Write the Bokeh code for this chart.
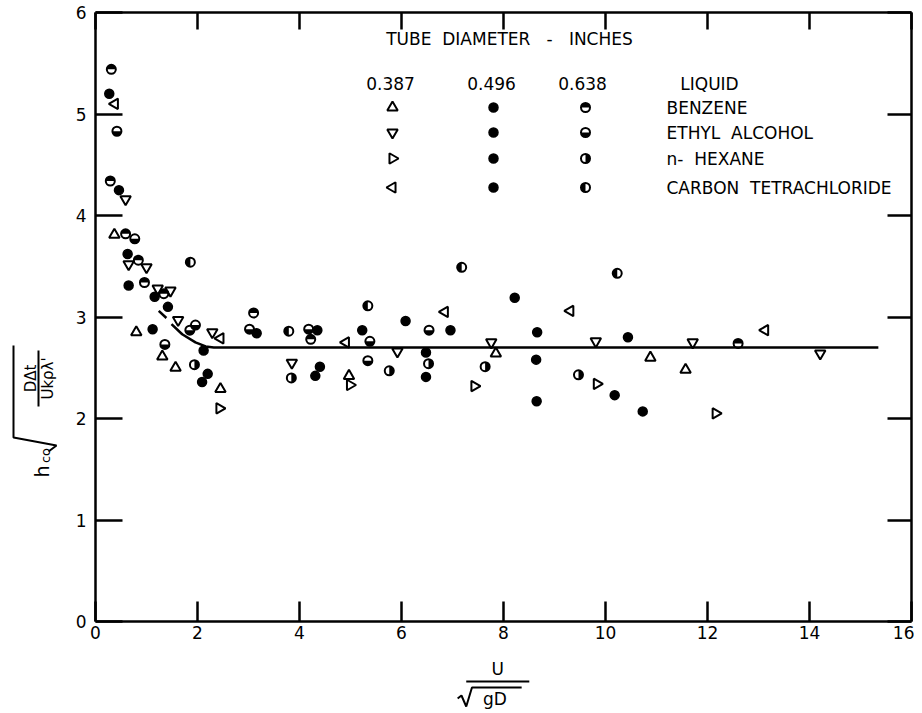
from math import pi
from bokeh.plotting import figure
from bokeh.models import Range1d, LinearAxis, Label, FixedTicker
from bokeh.core.properties import value
from bokeh.layouts import row, column
from bokeh.embed import file_html
from bokeh.resources import INLINE

# ---------------- data ----------------
x_ticks = [0, 2, 4, 6, 8, 10, 12, 14, 16]
y_ticks = [0, 1, 2, 3, 4, 5, 6]

NB = "\u00a0"
diameters = ["0.387", "0.496", "0.638"]
liquids = ["BENZENE", "ETHYL" + NB + " ALCOHOL", "n-" + NB + " HEXANE", "CARBON" + NB + " TETRACHLORIDE"]

# 0.387 in. tube (triangles)
benz_387_x = [0.37, 0.80, 1.31, 1.57, 2.45, 4.97, 7.85, 10.88, 11.57]
benz_387_y = [3.81, 2.85, 2.61, 2.50, 2.29, 2.42, 2.64, 2.60, 2.48]
eth_387_x = [0.59, 0.65, 1.00, 1.22, 1.47, 1.62, 2.29, 3.85, 5.92, 7.76, 9.81, 11.71, 14.21]
eth_387_y = [4.16, 3.52, 3.49, 3.28, 3.26, 2.97, 2.85, 2.55, 2.66, 2.75, 2.76, 2.75, 2.64]
hex_387_x = [2.43, 4.99, 7.43, 9.83, 12.16]
hex_387_y = [2.10, 2.33, 2.32, 2.34, 2.05]
ccl4_387_x = [0.38, 2.45, 4.91, 6.85, 9.31, 13.13]
ccl4_387_y = [5.10, 2.79, 2.75, 3.05, 3.06, 2.87]

# 0.496 in. tube (filled circles)
benz_496_x = [0.27, 0.63, 1.16, 2.12, 4.35, 6.96, 8.66]
benz_496_y = [5.20, 3.62, 3.20, 2.67, 2.87, 2.87, 2.85]
eth_496_x = [0.46, 0.65, 1.42, 3.16, 5.23, 6.08, 10.44]
eth_496_y = [4.25, 3.31, 3.10, 2.84, 2.87, 2.96, 2.80]
hex_496_x = [2.20, 4.40, 6.48, 8.64, 10.18]
hex_496_y = [2.44, 2.51, 2.65, 2.58, 2.23]
ccl4_496_x = [1.12, 2.09, 4.31, 6.48, 8.22, 8.65, 10.73]
ccl4_496_y = [2.88, 2.36, 2.42, 2.41, 3.19, 2.17, 2.07]

# 0.638 in. tube (half-filled circles)
benz_638_x = [0.31, 0.29, 0.59, 0.84, 0.96, 1.34, 3.10, 4.22, 12.60]
benz_638_y = [5.44, 4.34, 3.82, 3.56, 3.34, 3.23, 3.04, 2.78, 2.74]
eth_638_x = [0.42, 0.77, 1.36, 1.96, 1.85, 3.02, 4.18, 5.38, 5.34, 6.54]
eth_638_y = [4.83, 3.77, 2.73, 2.92, 2.87, 2.88, 2.88, 2.76, 2.57, 2.87]
hex_638_x = [1.94, 3.84, 5.76, 6.53, 7.64, 9.47]
hex_638_y = [2.53, 2.40, 2.47, 2.54, 2.51, 2.43]
ccl4_638_x = [1.86, 3.79, 5.34, 7.18, 10.23]
ccl4_638_y = [3.54, 2.86, 3.11, 3.49, 3.43]

# correlation curve
curve_x = [1.49, 1.70, 1.96, 2.16, 2.32, 15.35]
curve_y = [2.93, 2.83, 2.75, 2.71, 2.70, 2.70]
curve_dash_x = [1.24, 1.39]
curve_dash_y = [3.06, 2.99]

# ---------------- main figure ----------------
FONT = "DejaVu Sans"
p = figure(width=854, height=660, x_range=Range1d(0, 16), y_range=Range1d(0, 6),
           output_backend="svg", toolbar_location=None,
           min_border_left=35, min_border_right=3, min_border_top=12, min_border_bottom=39,
           background_fill_color="white", border_fill_color="white")
p.outline_line_color = None
p.grid.visible = False

bottom_ax = p.below[0]
left_ax = p.left[0]
top_ax = LinearAxis()
right_ax = LinearAxis()
p.add_layout(top_ax, "above")
p.add_layout(right_ax, "right")

for ax, tin in ((bottom_ax, 20), (left_ax, 27), (top_ax, 17), (right_ax, 24)):
    ax.axis_line_width = 2.5
    ax.axis_line_color = "black"
    ax.major_tick_line_width = 2.5
    ax.major_tick_line_color = "black"
    ax.major_tick_in = tin
    ax.major_tick_out = 0
    ax.minor_tick_line_color = None
    ax.major_label_text_font = FONT
    ax.major_label_text_font_size = "17px"
    ax.major_label_text_color = "black"

bottom_ax.ticker = FixedTicker(ticks=x_ticks)
top_ax.ticker = FixedTicker(ticks=x_ticks)
left_ax.ticker = FixedTicker(ticks=y_ticks)
right_ax.ticker = FixedTicker(ticks=y_ticks)
bottom_ax.major_label_standoff = 4
left_ax.major_label_standoff = 9
for ax in (top_ax, right_ax):
    ax.major_label_text_color = None
    ax.major_label_text_font_size = "0px"
    ax.major_label_standoff = 0

# ---------------- helpers ----------------
def X(px):
    return (px - 95) / 51.0

def Y(py):
    return (621 - py) / 101.5

TRI_SIZE = 10.5
CIRC = 9

def tri(xs, ys, kind):
    common = dict(size=TRI_SIZE, fill_color=None, line_color="black", line_width=2)
    if kind == "up":
        p.scatter(xs, ys, marker="triangle", **common)
    elif kind == "down":
        p.scatter(xs, ys, marker="inverted_triangle", **common)
    elif kind == "right":
        p.scatter(xs, ys, marker="triangle", angle=-pi / 2, **common)
    else:
        p.scatter(xs, ys, marker="triangle", angle=pi / 2, **common)

def full(xs, ys):
    p.scatter(xs, ys, marker="circle", size=CIRC, fill_color="black",
              line_color="black", line_width=1.5)

HALF = {"up": (0, pi), "down": (pi, 2 * pi), "right": (-pi / 2, pi / 2), "left": (pi / 2, 3 * pi / 2)}

def half(xs, ys, kind):
    s, e = HALF[kind]
    p.wedge(xs, ys, radius=CIRC / 2.0, radius_units="screen", start_angle=s, end_angle=e,
            fill_color="black", line_color=None)
    p.scatter(xs, ys, marker="circle", size=CIRC, fill_color=None,
              line_color="black", line_width=2)

# ---------------- correlation curve ----------------
p.line(curve_x, curve_y, line_color="black", line_width=2.5)
p.line(curve_dash_x, curve_dash_y, line_color="black", line_width=2.5)

# ---------------- data points ----------------
tri(benz_387_x, benz_387_y, "up")
tri(eth_387_x, eth_387_y, "down")
tri(hex_387_x, hex_387_y, "right")
tri(ccl4_387_x, ccl4_387_y, "left")
full(benz_496_x, benz_496_y)
full(eth_496_x, eth_496_y)
full(hex_496_x, hex_496_y)
full(ccl4_496_x, ccl4_496_y)
half(benz_638_x, benz_638_y, "up")
half(eth_638_x, eth_638_y, "down")
half(hex_638_x, hex_638_y, "right")
half(ccl4_638_x, ccl4_638_y, "left")

# ---------------- key table ----------------
def lab(x, y, text, size="17px", align="center"):
    p.add_layout(Label(x=x, y=y, text=text, text_font=FONT, text_font_size=size,
                       text_align=align, text_baseline="middle", text_color="black"))

lab(X(509), Y(38), "TUBE" + NB + " DIAMETER" + NB + NB + " -" + NB + NB + " INCHES")
col_px = [390, 491, 582]
row_py = [107, 132, 158, 187]
for cx, d in zip(col_px, diameters):
    lab(X(cx), Y(83), d)
lab(X(709), Y(83), "LIQUID")
kinds = ["up", "down", "right", "left"]
for ry, name, k in zip(row_py, liquids, kinds):
    lab(X(666), Y(ry), name, align="left")
    tri([X(392)], [Y(ry)], k)
    full([X(493)], [Y(ry)])
    half([X(585)], [Y(ry)], k)

# ---------------- side panels (coordinates = page pixels, y measured up from 710) ----------------
H = 710
def side_fig(w, h, x0, y0):
    f = figure(width=w, height=h, x_range=Range1d(x0, x0 + w), y_range=Range1d(y0, y0 + h),
               output_backend="svg", toolbar_location=None, min_border=0,
               x_axis_location=None, y_axis_location=None,
               background_fill_color="white", border_fill_color="white")
    f.outline_line_color = None
    f.grid.visible = False
    return f

def txt(f, px, py, text, size, angle=0.0):
    f.text(x=[px], y=[H - py], text=[text], angle=angle, text_font=value(FONT),
           text_font_size=size, text_align="center", text_baseline="middle", text_color="black")

def pline(f, pxs, pys):
    f.line(pxs, [H - v for v in pys], line_color="black", line_width=2)

# y title: h_co * sqrt( D dt / (U k rho lambda') ), read bottom to top
yfig = side_fig(60, 710, 0, 0)
txt(yfig, 41, 471, "h", "19px", angle=pi / 2)
txt(yfig, 45, 455, "co", "13px", angle=pi / 2)
pline(yfig, [48, 56, 13, 13], [451, 445, 437, 345])
txt(yfig, 30, 378, "D\u0394t", "15px", angle=pi / 2)
pline(yfig, [38, 38], [350, 406])
txt(yfig, 47, 378, "Uk\u03c1\u03bb'", "15px", angle=pi / 2)

# x title: U / sqrt(gD)
xfig = side_fig(854, 50, 60, 0)
txt(xfig, 481, 668, "U", "17px")
pline(xfig, [448, 514], [681, 681])
pline(xfig, [439, 443, 448, 454, 506], [698, 695, 706, 687, 687])
txt(xfig, 478, 698, "gD", "17px")

layout = row(yfig, column(p, xfig))
open("out.html", "w").write(file_html(layout, INLINE))
